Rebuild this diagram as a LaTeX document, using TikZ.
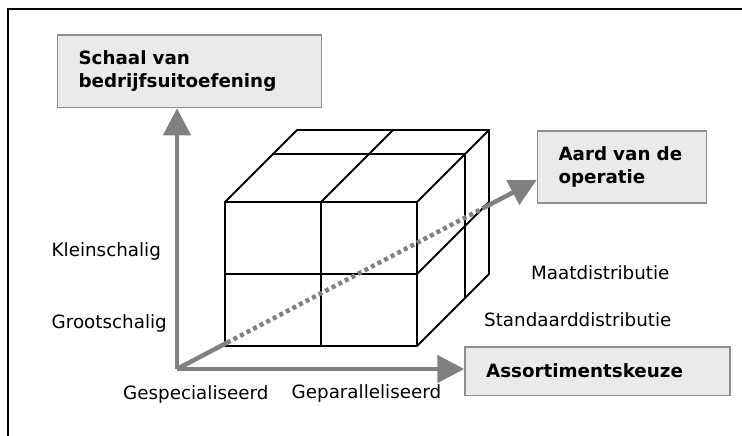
\documentclass[tikz,border=0pt]{standalone}
\usepackage{fontspec}
\setmainfont{DejaVu Sans}
\usetikzlibrary{arrows.meta,calc}

\definecolor{axisgray}{RGB}{128,128,128}
\definecolor{boxfill}{RGB}{234,234,234}
\definecolor{boxline}{RGB}{143,143,143}

\tikzset{
  frameline/.style={line width=1.6pt, black},
  cubeline/.style={line width=1.8pt, black, line cap=round, line join=round},
  axisline/.style={line width=4.5pt, axisgray},
  axisarrow/.style={axisline, -{Triangle[length=27pt,width=27pt]}},
  axisdots/.style={line width=4.5pt, axisgray, dash pattern=on 4pt off 3.4pt},
  axisbox/.style={draw=boxline, line width=1.6pt, fill=boxfill, font=\fontsize{18.3}{23}\selectfont\bfseries,
    align=left, inner xsep=21pt, inner ysep=0pt, anchor=north west},
  lbl/.style={font=\fontsize{18.3}{22}\selectfont, anchor=base west, inner sep=0pt}
}

\begin{document}
\begin{tikzpicture}[x=1pt, y=-1pt]
\useasboundingbox (0,0) rectangle (742,436);

% outer frame (left and top sides)
\draw[frameline] (8,436) -- (8,9.3) -- (742,9.3);

% axis boxes
\node[axisbox, text width=222pt, minimum height=72.7pt] (schaal) at (56.7,34)
  {Schaal van\\bedrijfsuitoefening};
\node[axisbox, text width=127pt, minimum height=72.3pt] (aard) at (536.7,130)
  {Aard van de\\operatie};
\node[axisbox, text width=223pt, minimum height=48.7pt] (assort) at (464.3,346)
  {Assortimentskeuze};

% cube: front face
\coordinate (f1) at (225,202);
\draw[cubeline] (225,202) rectangle (417,346);
\draw[cubeline] (321,202) -- (321,346);
\draw[cubeline] (225,274) -- (417,274);
% top face
\draw[cubeline] (225,202) -- (297,130) -- (489,130) -- (417,202);
\draw[cubeline] (321,202) -- (393,130);
\draw[cubeline] (273,154) -- (465,154);
% right face
\draw[cubeline] (489,130) -- (489,274) -- (417,346);
\draw[cubeline] (417,274) -- (489,202);
\draw[cubeline] (465,154) -- (465,298);

% axes
\coordinate (o) at (177,369);
\coordinate (tip) at ([yshift=-13pt]aard.west);
\coordinate (d1) at ($(o)!0.139!(tip)$);
\coordinate (d2) at ($(o)!0.856!(tip)$);
\draw[axisarrow] (o) -- (o |- schaal.south);
\draw[axisarrow] (o) -- (o -| assort.west);
\draw[axisline] (o) -- (d1);
\draw[axisdots] (d1) -- (d2);
\draw[axisarrow] (d2) -- (tip);

% value labels
\node[lbl] (klein) at (51.5,256) {Kleinschalig};
\node[lbl] (groot) at (51.5,328.3) {Grootschalig};
\node[lbl] (gesp) at (123,399) {Gespecialiseerd};
\node[lbl] (gepar) at (291.5,398.5) {Geparalleliseerd};
\node[lbl] (maat) at (531,279.3) {Maatdistributie};
\node[lbl] (stand) at (484,326.7) {Standaarddistributie};
\end{tikzpicture}
\end{document}
